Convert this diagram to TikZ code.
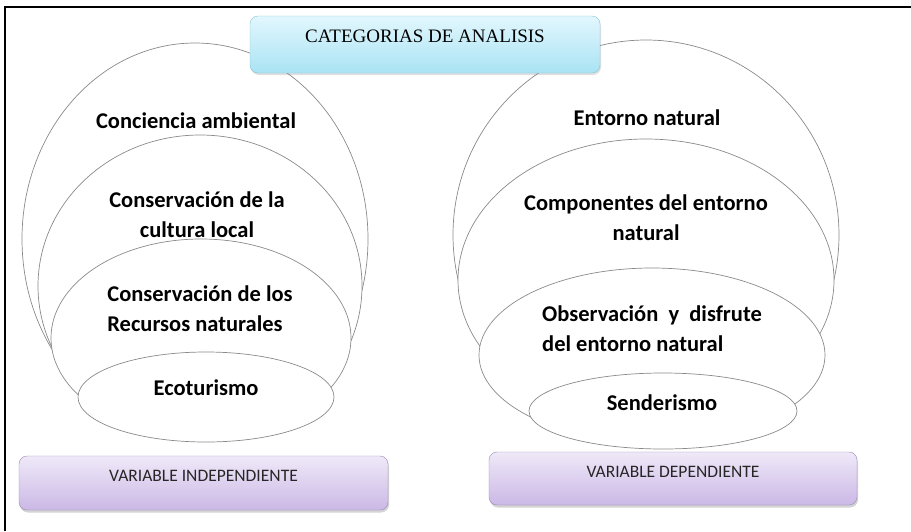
\documentclass[tikz,border=0pt]{standalone}
\usepackage{fontspec}
\setmainfont{Liberation Serif}
\newfontfamily\calibri{Carlito}
\usetikzlibrary{shadows}

\definecolor{cyantop}{HTML}{E2F7FD}
\definecolor{cyanbot}{HTML}{A9E3F4}
\definecolor{cyanline}{HTML}{86C6D8}
\definecolor{lilatop}{HTML}{EFE9F8}
\definecolor{lilabot}{HTML}{CBB8E6}
\definecolor{lilaline}{HTML}{9A8BB5}
\definecolor{ringgray}{HTML}{8A8A8A}

\tikzset{
	venn/.style={draw=ringgray, fill=white, line width=0.7pt},
	catlabel/.style={font=\calibri\bfseries\fontsize{22.5}{30}\selectfont, inner sep=0pt},
	catbox/.style={rounded corners=8pt, draw=cyanline, top color=cyantop, bottom color=cyanbot,
		minimum width=350pt, minimum height=57pt, text height=13pt, text depth=18pt,
		font=\fontsize{19}{22}\selectfont, drop shadow={opacity=0.25, shadow xshift=1pt, shadow yshift=-2pt}},
	varbox/.style={rounded corners=8pt, draw=lilaline, top color=lilatop, bottom color=lilabot,
		minimum height=54pt, text height=11pt, text depth=14pt, text=black!85,
		font=\calibri\fontsize{17.5}{20}\selectfont, drop shadow={opacity=0.35, shadow xshift=1pt, shadow yshift=-2.5pt}}
}

\begin{document}
\begin{tikzpicture}[x=1pt, y=-1pt]
	\useasboundingbox (0,0) rectangle (911,531);
	%frame
	\draw[line width=2pt] (5,531) -- (5,7) -- (911,7);

	%independent variable, outer ring first
	\foreach \cx/\cy/\rx/\ry in {195/239/173/196, 200/286/162/151, 201/338/150/99, 206/397/128/45}{
		\draw[venn] (\cx,\cy) ellipse [x radius=\rx, y radius=\ry];
	}
	%dependent variable
	\foreach \cx/\cy/\rx/\ry in {646/235/193/195, 646/280/188/141, 652/355/173/87, 663/411/134/38}{
		\draw[venn] (\cx,\cy) ellipse [x radius=\rx, y radius=\ry];
	}

	\node[catlabel] (conciencia) at (196,121) {Conciencia ambiental};
	\node[catlabel, align=center] (cultura) at (197,215) {Conservación de la\\cultura local};
	\node[catlabel, align=left] (recursos) at (200,308.5) {Conservación de los\\Recursos naturales};
	\node[catlabel] (ecoturismo) at (206,388) {Ecoturismo};

	\node[catlabel] (entorno) at (647,118) {Entorno natural};
	\node[catlabel, align=center] (componentes) at (646,217.5) {Componentes del entorno\\natural};
	\node[catlabel, align=left] (observacion) at (652,328.5) {Observación\ \ y\ \ disfrute\\del entorno natural};
	\node[catlabel] (senderismo) at (662,403) {Senderismo};

	\node[catbox] (categorias) at (425,44.5) {CATEGORIAS DE ANALISIS};
	\node[varbox, minimum width=369pt] (independiente) at (203.5,483) {VARIABLE INDEPENDIENTE};
	\node[varbox, minimum width=368pt, minimum height=53pt] (dependiente) at (673,478.5) {VARIABLE DEPENDIENTE};
\end{tikzpicture}
\end{document}
